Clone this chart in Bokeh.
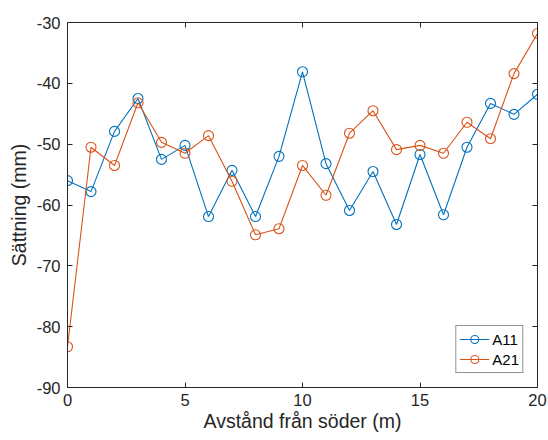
from bokeh.plotting import figure
from bokeh.models import Range1d, LinearAxis, FixedTicker, Legend, LegendItem
from bokeh.embed import file_html
from bokeh.resources import INLINE

x = list(range(0, 21))
a11 = [-56.0, -57.8, -47.9, -42.5, -52.5, -50.2, -61.9, -54.3, -61.9, -52.0, -38.1,
       -53.2, -60.9, -54.5, -63.2, -51.7, -61.6, -50.5, -43.3, -45.1, -41.8]
a21 = [-83.3, -50.5, -53.5, -43.2, -49.7, -51.5, -48.6, -56.1, -64.9, -63.9, -53.5,
       -58.4, -48.2, -44.5, -50.9, -50.2, -51.5, -46.4, -49.1, -38.4, -31.8]
xticks = [0, 5, 10, 15, 20]
yticks = [-90, -80, -70, -60, -50, -40, -30]
xlabel = "Avstånd från söder (m)"
ylabel = "Sättning (mm)"

FONT = "Liberation Sans"
AX = "#262626"
BLUE = "#0072BD"
ORANGE = "#D95319"

p = figure(width=548, height=440, output_backend="svg", toolbar_location=None,
           x_range=Range1d(0, 20), y_range=Range1d(-90, -30),
           min_border_left=67, min_border_right=11, min_border_top=22, min_border_bottom=53)
p.background_fill_color = "white"
p.border_fill_color = "white"
p.outline_line_color = AX
p.outline_line_width = 1
p.xgrid.visible = False
p.ygrid.visible = False

def style(ax, ticks, labels=True):
    ax.ticker = FixedTicker(ticks=ticks)
    ax.major_tick_in = 5
    ax.major_tick_out = 0
    ax.minor_tick_line_color = None
    ax.axis_line_color = AX
    ax.major_tick_line_color = AX
    ax.major_label_text_font = FONT
    if labels:
        ax.major_label_overrides = {t: str(t) for t in ticks}
        ax.major_label_text_color = AX
        ax.major_label_text_font_size = "16.5px"
        ax.major_label_standoff = 7
    else:
        ax.major_label_text_color = None
        ax.major_label_text_font_size = "1px"
        ax.major_label_standoff = 0
    ax.axis_label_text_font = FONT
    ax.axis_label_text_font_style = "normal"
    ax.axis_label_text_color = AX
    ax.axis_label_text_font_size = "19.5px"

style(p.xaxis[0], xticks)
style(p.yaxis[0], yticks)
p.xaxis[0].axis_label = xlabel
p.yaxis[0].axis_label = ylabel
p.xaxis[0].major_label_standoff = 6
p.xaxis[0].axis_label_standoff = 1
p.yaxis[0].axis_label_standoff = 4

top = LinearAxis()
right = LinearAxis()
style(top, xticks, labels=False)
style(right, yticks, labels=False)
p.add_layout(top, "above")
p.add_layout(right, "right")

l1 = p.line(x, a11, color=BLUE, line_width=1.1)
s1 = p.scatter(x, a11, marker="circle", size=10, fill_color=None, line_color=BLUE, line_width=1.1)
l2 = p.line(x, a21, color=ORANGE, line_width=1.1)
s2 = p.scatter(x, a21, marker="circle", size=10, fill_color=None, line_color=ORANGE, line_width=1.1)

legend = Legend(items=[LegendItem(label="A11", renderers=[l1, s1]),
                       LegendItem(label="A21", renderers=[l2, s2])],
                location="bottom_right")
legend.margin = 14
legend.padding = 3
legend.spacing = 0
legend.glyph_width = 30
legend.glyph_height = 20
legend.label_standoff = 3
legend.label_text_font = FONT
legend.label_text_font_size = "15px"
legend.label_text_color = "black"
legend.border_line_color = AX
legend.border_line_width = 1
legend.background_fill_color = "white"
legend.background_fill_alpha = 1
p.add_layout(legend, "center")

open("out.html", "w").write(file_html(p, INLINE))
